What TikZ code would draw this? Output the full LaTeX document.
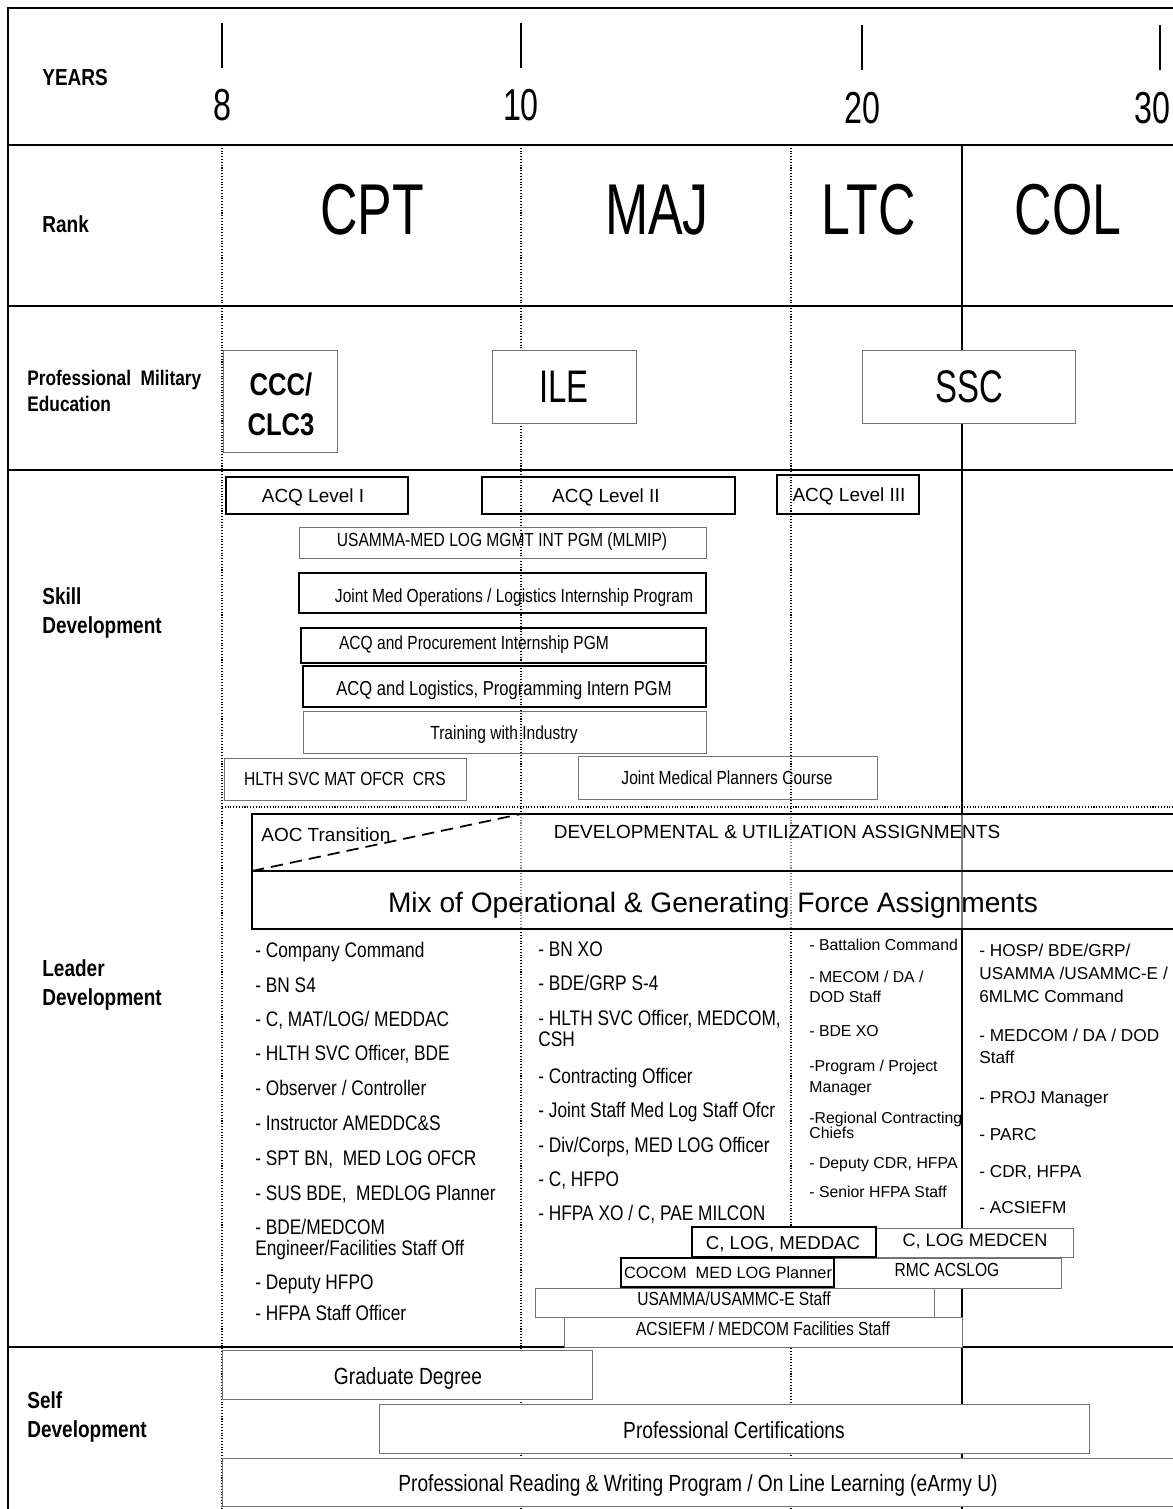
\documentclass[tikz,border=0pt]{standalone}
\usepackage{fontspec}
\setmainfont{Liberation Sans}[FakeStretch=0.82]
\newfontfamily\widefont{Liberation Sans}
\newfontfamily\condfont{Liberation Sans}[FakeStretch=0.72]
\usetikzlibrary{calc}
\tikzset{
  sectionrule/.style={line width=1.6pt},
  frameline/.style={line width=0.8pt},
  gridline/.style={densely dotted,line width=0.6pt},
  colline/.style={line width=0.6pt},
  yeartick/.style={line width=0.6pt},
  heavybar/.style={draw,line width=1.2pt},
  lightbar/.style={draw=black!55,line width=0.5pt},
  rowlabel/.style={anchor=west,align=left,inner sep=0pt,font=\bfseries\fontsize{13.2}{17}\selectfont},
  yearnum/.style={inner sep=0pt,font=\condfont\fontsize{25.5}{28}\selectfont},
  rankname/.style={inner sep=0pt,font=\condfont\fontsize{41}{44}\selectfont},
  pmename/.style={inner sep=0pt,font=\condfont\fontsize{26}{28}\selectfont},
  bartext/.style={inner sep=0pt,text depth=0pt,font=\fontsize{10.8}{12}\selectfont},
  widetext/.style={inner sep=0pt,text depth=0pt,font=\widefont\fontsize{10.8}{12}\selectfont},
  selftext/.style={inner sep=0pt,text depth=0pt,font=\fontsize{13.3}{15}\selectfont},
  listitem/.style={anchor=west,inner sep=0pt,text depth=0pt,font=\fontsize{12}{13}\selectfont},
  smallitem/.style={anchor=west,inner sep=0pt,text depth=0pt,font=\widefont\fontsize{9}{10}\selectfont},
  colitem/.style={anchor=west,inner sep=0pt,text depth=0pt,font=\widefont\fontsize{9.8}{11}\selectfont},
  transition/.style={line width=1pt,dash pattern=on 7pt off 4pt}
}

\begin{document}
\begin{tikzpicture}[x=0.02cm,y=-0.02cm]
  \useasboundingbox (0,0) rectangle (1173,1509);
  \clip (0,0) rectangle (1173,1509);
  % frame and row rules
  \draw[frameline] (8,1520) -- (8,8) -- (1180,8);
  \foreach \y in {145,306,470,1347}
    \draw[sectionrule] (8,\y) -- (1180,\y);
  % year columns
  \draw[gridline] (222,145) -- (222,1520);
  \draw[gridline] (521,145) -- (521,1520);
  \draw[gridline] (791,145) -- (791,1520);
  \draw[colline] (962,145) -- (962,1520);
  \foreach \x/\t in {222/23,521/23,862/25,1160/25}
    \draw[yeartick] (\x,\t) -- (\x,\t+45);
  \node[yearnum] (yr8) at (222,105) {8};
  \node[yearnum] (yr10) at (521,105) {10};
  \node[yearnum] (yr20) at (862,108) {20};
  \node[yearnum] (yr30) at (1152,108) {30};
  % row labels
  \node[rowlabel] (yearslbl) at (42,78) {YEARS};
  \node[rowlabel] (ranklbl) at (42,224) {Rank};
  \node[rowlabel,font=\bfseries\fontsize{12}{14.7}\selectfont] (pmelbl) at (27,391) {Professional\ \ Military\\Education};
  \node[rowlabel] (skilllbl) at (42,613) {Skill\\Development};
  \node[rowlabel] (leaderlbl) at (42,985) {Leader\\Development};
  \node[rowlabel,font=\bfseries\fontsize{13.2}{16.4}\selectfont] (selflbl) at (27,1417) {Self\\Development};
  % ranks
  \node[rankname] (cpt) at (372,210) {CPT};
  \node[rankname] (maj) at (657,210) {MAJ};
  \node[rankname] (ltc) at (869,210) {LTC};
  \node[rankname] (col) at (1068,210) {COL};
  % professional military education
  \draw[lightbar,fill=white] (223,350) rectangle (337,452);
  \node[align=center,inner sep=0pt,font=\bfseries\fontsize{17.8}{22.7}\selectfont] (ccc) at (281,404) {CCC/\\CLC3};
  \draw[lightbar,fill=white] (492,350) rectangle (636,423);
  \node[pmename] (ile) at (564,387) {ILE};
  \draw[lightbar,fill=white] (862,350) rectangle (1075,423);
  \node[pmename] (ssc) at (969,387) {SSC};
  % skill development
  \draw[heavybar] (226,477) rectangle (408,514);
  \node[widetext] (acqone) at (313,496) {ACQ Level I};
  \draw[heavybar] (482,477) rectangle (735,514);
  \node[widetext] (acqtwo) at (606,496) {ACQ Level II};
  \draw[heavybar] (777,475) rectangle (919,514);
  \node[widetext] (acqthree) at (849,495) {ACQ Level III};
  \draw[lightbar] (299,527) rectangle (706,558);
  \node[bartext] (mlmip) at (502,540) {USAMMA-MED LOG MGMT INT PGM (MLMIP)};
  \draw[heavybar] (299,573) rectangle (706,613);
  \node[bartext] (jointmed) at (514,596) {Joint Med Operations / Logistics Internship Program};
  \draw[heavybar] (301,628) rectangle (706,663);
  \node[bartext] (acqproc) at (474,643) {ACQ and Procurement Internship PGM};
  \draw[heavybar] (303,666) rectangle (706,707);
  \node[bartext,font=\fontsize{11.5}{13}\selectfont] (acqlog) at (504,688) {ACQ and Logistics, Programming Intern PGM};
  \draw[lightbar] (303,711) rectangle (706,753);
  \node[bartext] (twi) at (504,733) {Training with Industry};
  \draw[lightbar] (224,758) rectangle (466,800);
  \node[bartext] (hsmoc) at (345,779) {HLTH SVC MAT OFCR\ \ CRS};
  \draw[lightbar] (578,756) rectangle (877,799);
  \node[bartext] (jmpc) at (727,778) {Joint Medical Planners Course};
  \draw[gridline] (222,807) -- (1180,807);
  % leader development
  \fill[white,fill opacity=0.5] (252,814) rectangle (1180,929);
  \draw[line width=1.2pt] (1180,814) -- (252,814) -- (252,929) -- (1180,929);
  \draw[line width=1.2pt] (252,871) -- (1180,871);
  \coordinate (aocstart) at (252,871);
  \coordinate (aocend) at (521,814);
  \draw[transition] (aocstart) -- (aocend);
  \node[widetext,anchor=west] (aoc) at (261,835) {AOC Transition};
  \node[widetext] (devutil) at (777,832) {DEVELOPMENTAL \& UTILIZATION ASSIGNMENTS};
  \node[widetext,font=\widefont\fontsize{16}{18}\selectfont] (mixops) at (713,902) {Mix of Operational \& Generating Force Assignments};
  \foreach \y/\txt [count=\i] in {950/- Company Command, 985/- BN S4, 1019/{- C, MAT/LOG/ MEDDAC},
      1053/{- HLTH SVC Officer, BDE}, 1088/{- Observer / Controller}, 1123/- Instructor AMEDDC\&S,
      1158/{- SPT BN,\ \ MED LOG OFCR}, 1193/{- SUS BDE,\ \ MEDLOG Planner}, 1227/{- BDE/MEDCOM},
      1248/{Engineer/Facilities Staff Off}, 1282/- Deputy HFPO, 1313/- HFPA Staff Officer}
    \node[listitem] (cptjob\i) at (255,\y) {\txt};
  \foreach \y/\txt [count=\i] in {949/- BN XO, 983/{- BDE/GRP S-4}, 1018/{- HLTH SVC Officer, MEDCOM,},
      1039/CSH, 1076/- Contracting Officer, 1110/- Joint Staff Med Log Staff Ofcr,
      1145/{- Div/Corps, MED LOG Officer}, 1179/{- C, HFPO}, 1213/{- HFPA XO / C, PAE MILCON}}
    \node[listitem] (majjob\i) at (538,\y) {\txt};
  \foreach \y/\txt [count=\i] in {945/- Battalion Command, 977/{- MECOM / DA /}, 997/DOD Staff,
      1031/- BDE XO, 1066/{-Program / Project}, 1087/Manager, 1118/-Regional Contracting,
      1133/Chiefs, 1163/{- Deputy CDR, HFPA}, 1192/- Senior HFPA Staff}
    \node[smallitem] (ltcjob\i) at (809,\y) {\txt};
  \foreach \y/\txt [count=\i] in {950/{- HOSP/ BDE/GRP/}, 973/{USAMMA /USAMMC-E /}, 996/6MLMC Command,
      1035/{- MEDCOM / DA / DOD}, 1057/Staff, 1097/- PROJ Manager, 1134/- PARC,
      1171/{- CDR, HFPA}, 1207/- ACSIEFM}
    \node[colitem] (coljob\i) at (979,\y) {\txt};
  \draw[lightbar,fill=white] (876,1228) rectangle (1073,1257);
  \node[widetext,font=\widefont\fontsize{10.3}{12}\selectfont] (logmedcen) at (975,1240) {C, LOG MEDCEN};
  \draw[heavybar,fill=white] (692,1227) rectangle (876,1257);
  \node[widetext,font=\widefont\fontsize{10.6}{12}\selectfont] (logmeddac) at (783,1243) {C, LOG, MEDDAC};
  \draw[lightbar,fill=white] (834,1258) rectangle (1061,1288);
  \node[bartext] (rmcacslog) at (947,1270) {RMC ACSLOG};
  \draw[heavybar,fill=white] (621,1258) rectangle (834,1287);
  \node[widetext,font=\widefont\fontsize{9.3}{11}\selectfont] (cocom) at (728,1273) {COCOM\ \ MED LOG Planner};
  \draw[lightbar,fill=white] (535,1288) rectangle (934,1317);
  \node[bartext] (usammastaff) at (734,1299) {USAMMA/USAMMC-E Staff};
  \draw[lightbar,fill=white] (564,1317) rectangle (962,1347);
  \node[bartext] (acsiefm) at (763,1329) {ACSIEFM / MEDCOM Facilities Staff};
  % self development
  \draw[lightbar,fill=white] (222,1350) rectangle (592,1399);
  \node[selftext] (graddeg) at (408,1376) {Graduate Degree};
  \draw[lightbar,fill=white] (379,1404) rectangle (1089,1453);
  \node[selftext] (profcert) at (734,1430) {Professional Certifications};
  \draw[lightbar,fill=white] (222,1458) rectangle (1180,1506);
  \node[selftext] (reading) at (698,1483) {Professional Reading \& Writing Program / On Line Learning (eArmy U)};
\end{tikzpicture}
\end{document}
